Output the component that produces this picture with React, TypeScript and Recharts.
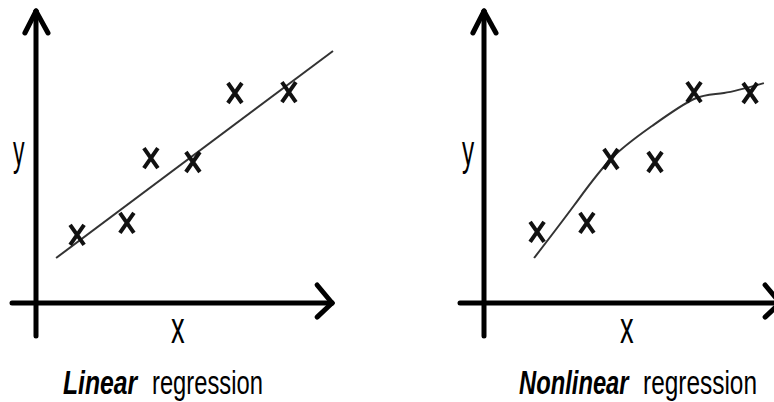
import React from 'react';
import { ComposedChart, Scatter, Line, XAxis, YAxis, ReferenceLine } from 'recharts';

// Observed samples (same units on both panels)
const linearPoints = [
  { x: 1.37, y: 2.27 },
  { x: 3.03, y: 2.67 },
  { x: 3.83, y: 4.83 },
  { x: 5.23, y: 4.7 },
  { x: 6.63, y: 7.0 },
  { x: 8.43, y: 7.03 },
];

const nonlinearPoints = [
  { x: 1.77, y: 2.37 },
  { x: 3.43, y: 2.67 },
  { x: 4.23, y: 4.8 },
  { x: 5.7, y: 4.7 },
  { x: 7.0, y: 7.03 },
  { x: 8.87, y: 7.0 },
];

// Fitted straight line, end to end
const linearFit = [
  { x: 0.67, y: 1.5 },
  { x: 9.9, y: 8.4 },
];

// Fitted curve, traced along its length
const nonlinearFit = [
  { x: 1.67, y: 1.5 },
  { x: 3.0, y: 3.25 },
  { x: 4.23, y: 4.8 },
  { x: 5.6, y: 5.9 },
  { x: 7.0, y: 6.8 },
  { x: 8.0, y: 7.0 },
  { x: 9.33, y: 7.33 },
];

const PANEL_W = 387;
const PANEL_H = 402;
const X_DOMAIN: [number, number] = [-1.2, 11.7];
const Y_DOMAIN: [number, number] = [-3.3, 10];

const AXIS_COLOR = '#000';
const AXIS_WIDTH = 5;

// hand-drawn style axes: a cross at the origin with arrow heads
const axisSegments = [
  [{ x: -0.8, y: 0 }, { x: 9.87, y: 0 }],
  [{ x: 0, y: -1.1 }, { x: 0, y: 9.73 }],
  [{ x: -0.37, y: 9.0 }, { x: 0, y: 9.73 }],
  [{ x: 0.4, y: 9.0 }, { x: 0, y: 9.73 }],
  [{ x: 9.37, y: 0.6 }, { x: 9.87, y: 0 }],
  [{ x: 9.37, y: -0.47 }, { x: 9.87, y: 0 }],
];

const CrossMark = (props: any) => {
  const { cx, cy } = props;
  if (cx == null || cy == null) return null;
  const w = 7;
  const h = 10;
  return (
    <path
      d={`M${cx - w},${cy - h}L${cx + w},${cy + h}M${cx + w},${cy - h}L${cx - w},${cy + h}`}
      stroke="#111"
      strokeWidth={4}
      fill="none"
    />
  );
};

interface PanelProps {
  points: { x: number; y: number }[];
  fit: { x: number; y: number }[];
  curved?: boolean;
}

function Panel({ points, fit, curved }: PanelProps) {
  return (
    <ComposedChart
      width={PANEL_W}
      height={PANEL_H}
      margin={{ top: 3, right: 0, bottom: 0, left: 0 }}
    >
      <XAxis type="number" dataKey="x" domain={X_DOMAIN} allowDataOverflow hide />
      <YAxis type="number" dataKey="y" domain={Y_DOMAIN} allowDataOverflow hide />
      {axisSegments.map((seg, i) => (
        <ReferenceLine
          key={i}
          segment={seg}
          stroke={AXIS_COLOR}
          strokeWidth={AXIS_WIDTH}
          strokeLinecap="round"
          ifOverflow="visible"
        />
      ))}
      <Line
        data={fit}
        dataKey="y"
        type={curved ? 'natural' : 'linear'}
        stroke="#333"
        strokeWidth={2}
        dot={false}
        activeDot={false}
        isAnimationActive={false}
      />
      <Scatter data={points} shape={<CrossMark />} isAnimationActive={false} />
    </ComposedChart>
  );
}

const FONT = '"Liberation Sans", Arial, sans-serif';

// narrow lettering: plain sans squeezed horizontally
function NarrowText({ x, y, size, sx, bold, children }: any) {
  return (
    <g transform={`translate(${x},${y}) scale(${sx},1)`}>
      <text
        x={0}
        y={0}
        fontSize={size}
        fontWeight={bold ? 'bold' : 'normal'}
        fontStyle={bold ? 'italic' : 'normal'}
      >
        {children}
      </text>
    </g>
  );
}

export default function App() {
  return (
    <div
      style={{
        position: 'absolute',
        left: 0,
        top: 0,
        width: 774,
        height: 402,
        overflow: 'hidden',
        background: '#fff',
      }}
    >
      <div style={{ position: 'absolute', left: 0, top: 0 }}>
        <Panel points={linearPoints} fit={linearFit} />
      </div>
      <div style={{ position: 'absolute', left: 448, top: 0 }}>
        <Panel points={nonlinearPoints} fit={nonlinearFit} curved />
      </div>
      <svg
        width={774}
        height={402}
        style={{ position: 'absolute', left: 0, top: 0, pointerEvents: 'none' }}
        fontFamily={FONT}
        fill="#000"
      >
        {/* axis letters */}
        <NarrowText x={13} y={165} size={42} sx={0.55}>y</NarrowText>
        <NarrowText x={171} y={343} size={44} sx={0.62}>x</NarrowText>
        <NarrowText x={462} y={165} size={42} sx={0.58}>y</NarrowText>
        <NarrowText x={620} y={343} size={44} sx={0.62}>x</NarrowText>

        {/* panel captions */}
        <NarrowText x={63} y={394} size={33} sx={0.75} bold>Linear</NarrowText>
        <NarrowText x={152} y={394} size={33} sx={0.72}>regression</NarrowText>
        <NarrowText x={519} y={394} size={33} sx={0.72} bold>Nonlinear</NarrowText>
        <NarrowText x={643} y={394} size={33} sx={0.74}>regression</NarrowText>
      </svg>
    </div>
  );
}
